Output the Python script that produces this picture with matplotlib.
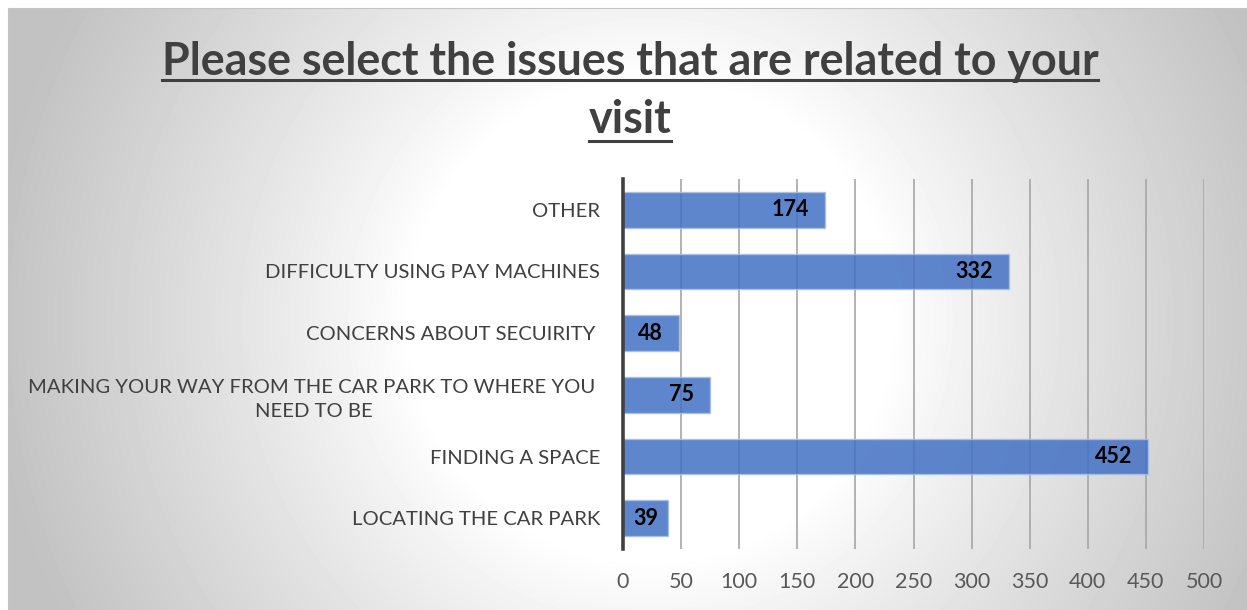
import matplotlib
matplotlib.use("Agg")
import matplotlib.pyplot as plt
import numpy as np
from matplotlib.lines import Line2D

plt.rcParams['font.family'] = ['Lato', 'DejaVu Sans']

# data (bottom to top)
categories = ["LOCATING THE CAR PARK",
              "FINDING A SPACE",
              "MAKING YOUR WAY FROM THE CAR PARK TO WHERE YOU \nNEED TO BE",
              "CONCERNS ABOUT SECUIRITY ",
              "DIFFICULTY USING PAY MACHINES",
              "OTHER"]
counts = [39, 452, 75, 48, 332, 174]
ticks = list(range(0, 501, 50))
title_lines = ["Please select the issues that are related to your", "visit"]

W, H = 1247, 610
fig = plt.figure(figsize=(W/100, H/100), dpi=100)
fig.patch.set_facecolor("white")

# radial grey-white background of the chart area
bg = fig.add_axes([8/W, 0, 1 - 8/W, (H - 8)/H])
xs = np.arange(8, W)
ys = np.arange(8, H)
X, Y = np.meshgrid(xs, ys)
r = np.hypot(X - 650, Y - 320)
v = 1 - 0.24*np.clip((r - 240)/420, 0, 1)**0.9
bg.imshow(v, cmap="gray", vmin=0, vmax=1, aspect="auto", interpolation="bilinear")
bg.set_xticks([]); bg.set_yticks([])
for s in ["right", "bottom"]:
    bg.spines[s].set_visible(False)
for s in ["top", "left"]:
    bg.spines[s].set_color("#c4c4c4")
    bg.spines[s].set_linewidth(0.8)

ax = fig.add_axes([623/W, 61/H, 581/W, 370/H])
ax.patch.set_alpha(0)
y = np.arange(len(categories))
ax.barh(y, counts, height=0.58, color="#4472c4", alpha=0.86,
        edgecolor="#a9c0e6", linewidth=1, zorder=2)

for i, c in enumerate(counts):
    if c >= 45:
        ax.annotate(str(c), (c, i), xytext=(-11.5, 0), textcoords="offset points",
                    ha="right", va="center", fontsize=15.5, fontweight="bold",
                    color="black", zorder=3)
    else:
        ax.annotate(str(c), (c/2, i), ha="center", va="center", fontsize=15.5,
                    fontweight="bold", color="black", zorder=3)

ax.set_xlim(0, 500)
ax.set_ylim(-0.5, len(categories) - 0.5)
ax.set_xticks(ticks)
ax.set_yticks(y)
ax.set_yticklabels(categories, fontsize=14.6, color="#404040", linespacing=1.5)
for lbl in ax.get_yticklabels():
    lbl.set_multialignment("center")
ax.tick_params(axis="x", length=0, pad=16.5, labelsize=15.5, labelcolor="#595959")
ax.tick_params(axis="y", length=0, pad=16.5)
ax.grid(axis="x", color="#a6a6a6", linewidth=1.2, zorder=0)
ax.set_axisbelow(True)
for s in ["top", "right", "bottom"]:
    ax.spines[s].set_visible(False)
ax.spines["left"].set_color("#404040")
ax.spines["left"].set_linewidth(2.6)
ax.spines["left"].set_zorder(4)

# underlined title
baselines = [75, 133]
unders = [80, 141]
texts = []
for line, b in zip(title_lines, baselines):
    texts.append(fig.text(630/W, 1 - b/H, line, ha="center", va="baseline",
                          fontsize=32.3, fontweight="bold", color="#404040"))
fig.canvas.draw()
for t, u in zip(texts, unders):
    ext = t.get_window_extent()
    fig.add_artist(Line2D([ext.x0/W, ext.x1/W], [1 - u/H, 1 - u/H],
                          transform=fig.transFigure, color="#404040", linewidth=2.2))

fig.savefig("out.png", dpi=100)
